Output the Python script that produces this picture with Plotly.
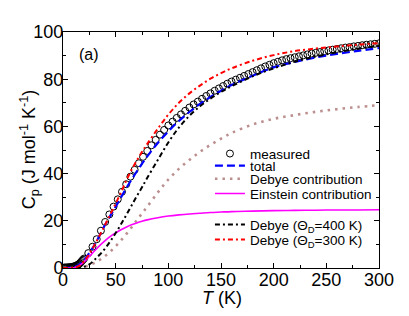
import plotly.graph_objects as go

# ---------------- data ----------------
T_meas = [1, 2, 3, 4, 5, 6, 7, 8, 9, 10, 11, 12, 13, 14, 15, 16, 17, 18, 19, 20,
          24, 28, 32, 36, 40, 44, 48, 52, 56, 60, 64, 68, 72, 76, 80, 84, 88, 92, 96, 100,
          104, 108, 112, 116, 120, 124, 128, 132, 136, 140, 144, 148, 152, 156, 160,
          164, 168, 172, 176, 180, 184, 188, 192, 196, 200, 204, 208, 212, 216, 220,
          224, 228, 232, 236, 240, 244, 248, 252, 256, 260, 264, 268, 272, 276, 280,
          284, 288, 292, 296, 300]
Cp_meas = [0.2, 0.2, 0.2, 0.2, 0.3, 0.3, 0.3, 0.4, 0.5, 0.6, 0.7, 0.9, 1.1, 1.3, 1.6, 2.0, 2.5, 3.0, 3.5, 4.0,
           6.3, 9.0, 12.2, 15.8, 19.5, 22.7, 26.0, 29.1, 32.3, 35.5, 38.7, 41.6, 44.4, 47.1, 49.6, 52.0, 54.3, 56.5, 58.5, 60.4,
           62.0, 63.6, 65.1, 66.6, 68.0, 69.3, 70.5, 71.7, 72.9, 74.0, 75.1, 76.1, 77.1, 78.1, 79.0,
           79.8, 80.6, 81.4, 82.2, 83.0, 83.8, 84.6, 85.4, 86.1, 86.8, 87.4, 88.0, 88.5, 88.9, 89.3,
           89.7, 90.1, 90.5, 90.9, 91.2, 91.5, 91.9, 92.2, 92.5, 92.8, 93.1, 93.4, 93.6, 93.9, 94.1,
           94.4, 94.6, 94.8, 95.0, 95.2]

T_fit = [0, 5, 10, 15, 20, 25, 30, 35, 40, 45, 50, 55, 60, 65, 70, 75, 80, 90, 100,
         110, 120, 130, 140, 150, 160, 180, 200, 220, 240, 260, 280, 300]
Cp_total = [0, 0.05, 0.3, 1.3, 3.4, 6.4, 9.8, 14.0, 18.3, 22.2, 26.0, 29.9, 33.8, 37.4, 40.9, 44.2, 47.3, 53.0, 57.9,
            62.3, 66.1, 69.5, 72.5, 75.1, 77.5, 81.5, 85.0, 87.3, 89.2, 90.7, 92.0, 93.2]
Cp_debye = [0, 0, 0, 0.1, 0.5, 1.2, 2.2, 3.5, 5.1, 7.0, 9.2, 11.7, 14.3, 17.2, 20.2, 23.1, 26.0, 32.0, 37.5,
            42.0, 45.8, 49.2, 52.2, 54.8, 57.2, 60.8, 63.2, 64.8, 66.2, 67.3, 68.2, 69.0]
Cp_einstein = [0, 0, 0.1, 0.9, 2.6, 4.9, 7.3, 9.6, 11.6, 13.4, 14.9, 16.2, 17.3, 18.3, 19.1, 19.8, 20.4, 21.3, 22.0,
               22.5, 22.9, 23.2, 23.5, 23.7, 23.9, 24.1, 24.3, 24.4, 24.5, 24.6, 24.6, 24.7]
Cp_D400 = [0, 0, 0, 0.1, 0.5, 1.5, 3.5, 5.7, 8.3, 11.4, 14.8, 18.5, 22.4, 26.4, 30.4, 34.2, 38.2, 45.8, 53.2,
           59.5, 64.5, 68.5, 71.8, 74.6, 77.0, 81.2, 84.6, 87.4, 89.6, 91.4, 92.9, 94.2]
Cp_D300 = [0, 0, 0.1, 0.8, 2.8, 6.0, 9.8, 14.0, 18.3, 22.8, 27.3, 32.0, 37.0, 41.5, 45.5, 49.2, 52.6, 59.0, 65.0,
           70.0, 74.0, 77.3, 80.2, 82.6, 84.6, 87.8, 90.2, 91.9, 93.0, 93.9, 94.6, 95.3]

x_ticks = [0, 50, 100, 150, 200, 250, 300]
y_ticks = [0, 20, 40, 60, 80, 100]

FONT = "Liberation Sans, Arial, Helvetica, sans-serif"

fig = go.Figure()

fig.add_trace(go.Scatter(
    x=T_meas, y=Cp_meas, mode="markers", name="measured",
    marker=dict(symbol="circle-open", size=7, color="black", line=dict(width=1)),
    legend="legend"))
fig.add_trace(go.Scatter(
    x=T_fit, y=Cp_total, mode="lines", name="total", line_shape="spline",
    line=dict(color="#0000ff", width=2.2, dash="8px,4px"), legend="legend2"))
fig.add_trace(go.Scatter(
    x=T_fit, y=Cp_debye, mode="lines", name="Debye contribution", line_shape="spline",
    line=dict(color="#bc8f8f", width=2.6, dash="2.5px,5px"), legend="legend3"))
fig.add_trace(go.Scatter(
    x=T_fit, y=Cp_einstein, mode="lines", name="Einstein contribution", line_shape="spline",
    line=dict(color="#ff00ff", width=1.6), legend="legend4"))
fig.add_trace(go.Scatter(
    x=T_fit, y=Cp_D400, mode="lines", name="Debye (Θ<sub>D</sub>=400 K)", line_shape="spline",
    line=dict(color="black", width=2, dash="5px,3px,2px,3px"), legend="legend5"))
fig.add_trace(go.Scatter(
    x=T_fit, y=Cp_D300, mode="lines", name="Debye (Θ<sub>D</sub>=300 K)", line_shape="spline",
    line=dict(color="#ff0000", width=2, dash="5px,3px,2px,3px"), legend="legend6"))

axis_common = dict(
    showgrid=False, zeroline=False, showline=True, linecolor="black", linewidth=1,
    mirror="allticks", ticks="inside", ticklen=5, tickwidth=1, tickcolor="black",
    tickfont=dict(family=FONT, size=18, color="black"), automargin=False,
    ticklabelstandoff=-5,
)

fig.update_xaxes(
    range=[0, 300], tickvals=x_ticks, ticktext=[str(v) for v in x_ticks],
    minor=dict(ticks="inside", ticklen=3, dtick=25, tick0=0, tickcolor="black"),
    **axis_common)
fig.update_yaxes(
    range=[0, 100], tickvals=y_ticks, ticktext=[str(v) for v in y_ticks],
    minor=dict(ticks="inside", ticklen=3, dtick=10, tick0=0, tickcolor="black"),
    **axis_common)

legend_common = dict(
    font=dict(family=FONT, size=13.5, color="black"), bgcolor="rgba(0,0,0,0)",
    borderwidth=0, itemwidth=30, xanchor="left", yanchor="middle", tracegroupgap=0,
    itemclick=False, itemdoubleclick=False, x=0.465)

legend_y = [0.484, 0.433, 0.377, 0.315, 0.183, 0.12]

title_font = dict(family=FONT, size=18, color="black")

# the page body adds an 8 px margin, so the figure is sized to fit inside the window
fig.update_layout(
    width=401, height=308,
    margin=dict(l=55, r=30, t=24, b=48, autoexpand=False),
    paper_bgcolor="white", plot_bgcolor="white",
    font=dict(family=FONT, color="black"),
    showlegend=True,
    legend=dict(y=legend_y[0], **legend_common),
    legend2=dict(y=legend_y[1], **legend_common),
    legend3=dict(y=legend_y[2], **legend_common),
    legend4=dict(y=legend_y[3], **legend_common),
    legend5=dict(y=legend_y[4], **legend_common),
    legend6=dict(y=legend_y[5], **legend_common),
    annotations=[
        dict(text="(a)", xref="paper", yref="paper", x=0.045, y=0.905,
             xanchor="left", yanchor="middle", showarrow=False,
             font=dict(family=FONT, size=16, color="black")),
        dict(text="<i>T</i> (K)", xref="paper", yref="paper", x=0.503, y=-0.126,
             xanchor="center", yanchor="middle", showarrow=False, font=title_font),
        dict(text="C<sub>p</sub> (J mol<sup>-1</sup> K<sup>-1</sup>)", xref="paper", yref="paper",
             x=-0.106, y=0.501, xanchor="center", yanchor="middle", textangle=-90,
             showarrow=False, font=title_font),
    ],
)

fig.write_html("out.html")
